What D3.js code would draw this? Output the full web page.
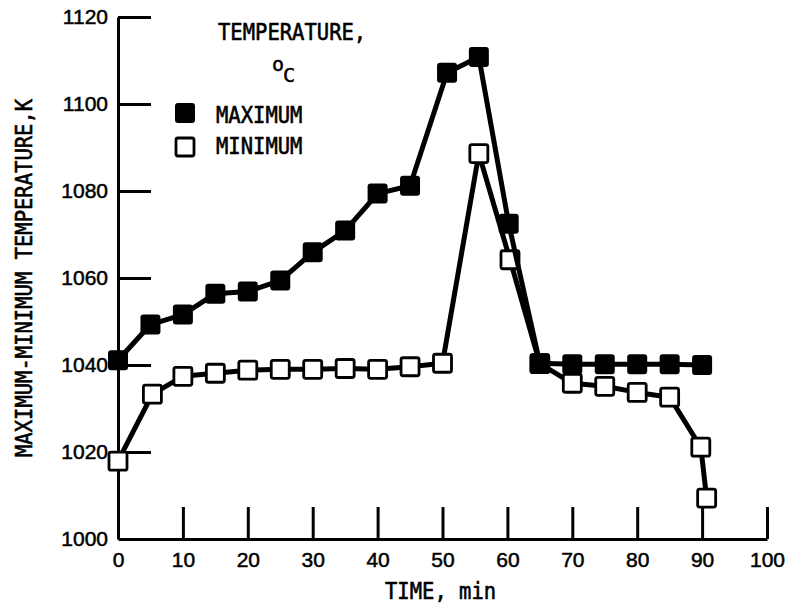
<!DOCTYPE html>
<html>
<head>
<meta charset="utf-8">
<script src="https://cdn.jsdelivr.net/npm/d3@7"></script>
<style>
  body { margin: 0; background: #fff; }
  svg { display: block; }
</style>
</head>
<body>
<div id="chart"></div>
<script>
// Set size constants
var totWidth = 787,
    totHeight = 606;
var margins = {top: 17, right: 20, bottom: 67, left: 118};

// Data (time in min, temperature in K)
var maxTime = [0, 5, 10, 15, 20, 25, 30, 35, 40, 45, 50.7, 55.6, 60.2, 65, 70, 75, 80, 85, 90];
var maxTemp = [1041.1, 1049.3, 1051.6, 1056.4, 1056.9, 1059.4, 1065.9, 1070.9, 1079.4, 1081.2,
               1107.2, 1110.8, 1072.5, 1040.4, 1040.2, 1040.2, 1040.2, 1040.2, 1040.0];
var minTime = [0, 5.3, 10, 15, 20, 25, 30, 35, 40, 45, 50, 55.6, 60.4, 65, 70, 75, 80, 85, 89.8, 90.7];
var minTemp = [1017.9, 1033.3, 1037.4, 1038.1, 1038.8, 1039.0, 1039.0, 1039.2, 1039.0, 1039.6,
               1040.4, 1088.6, 1064.2, 1040.3, 1035.8, 1035.1, 1033.7, 1032.6, 1021.1, 1009.4];
var xTicks = [0, 10, 20, 30, 40, 50, 60, 70, 80, 90, 100];
var yTicks = [1000, 1020, 1040, 1060, 1080, 1100, 1120];

var maxData = maxTime.map(function(t, i) { return {t: t, v: maxTemp[i]}; });
var minData = minTime.map(function(t, i) { return {t: t, v: minTemp[i]}; });

var monoFont = "'DejaVu Sans Mono', 'Liberation Mono', monospace";
var numFont = "'Liberation Sans', Arial, sans-serif";

var svg = d3.select("#chart")
  .append("svg")
    .attr("width", totWidth)
    .attr("height", totHeight);

// Scales
var x = d3.scaleLinear()
  .domain([0, 100])
  .range([margins.left, totWidth - margins.right]);
var y = d3.scaleLinear()
  .domain([1000, 1120])
  .range([totHeight - margins.bottom, margins.top]);

// X axis, ticks pointing up into the plot
var xAxis = svg.append("g")
  .attr("transform", "translate(0," + y(1000) + ")")
  .call(d3.axisBottom(x)
    .tickValues(xTicks)
    .tickSizeInner(-32)
    .tickSizeOuter(0)
    .tickPadding(13)
    .tickFormat(d3.format("d")));

// Y axis, ticks pointing right into the plot
var yAxis = svg.append("g")
  .attr("transform", "translate(" + x(0) + ",0)")
  .call(d3.axisLeft(y)
    .tickValues(yTicks)
    .tickSizeInner(-33)
    .tickSizeOuter(0)
    .tickPadding(10)
    .tickFormat(d3.format("d")));

[xAxis, yAxis].forEach(function(g) {
  g.select(".domain").attr("stroke", "#000").attr("stroke-width", 3);
  g.selectAll(".tick line").attr("stroke", "#000").attr("stroke-width", 3);
  g.selectAll(".tick text")
    .attr("fill", "#000")
    .attr("stroke", "#000")
    .attr("stroke-width", 0.5)
    .style("font-family", numFont)
    .style("font-size", "21px");
});
// no upward tick at 0, the y axis is there
xAxis.selectAll(".tick").filter(function(d) { return d === 0; }).select("line").remove();
yAxis.selectAll(".tick").filter(function(d) { return d === 1000; }).select("line").remove();

// Axis titles
function monoText(txt, n) {
  return svg.append("text")
    .attr("fill", "#000")
    .attr("stroke", "#000")
    .attr("stroke-width", 0.6)
    .style("font-family", monoFont)
    .style("font-size", "23px")
    .attr("textLength", n * 12.35)
    .attr("lengthAdjust", "spacingAndGlyphs")
    .text(txt);
}

monoText("TIME, min", 9)
  .attr("x", 385)
  .attr("y", 599);

monoText("MAXIMUM-MINIMUM TEMPERATURE,K", 29)
  .attr("transform", "translate(32,457) rotate(-90)");

// Lines
var line = d3.line()
  .x(function(d) { return x(d.t); })
  .y(function(d) { return y(d.v); });

svg.append("path")
  .datum(minData)
  .attr("fill", "none")
  .attr("stroke", "#000")
  .attr("stroke-width", 5)
  .attr("stroke-linejoin", "round")
  .attr("d", line);

svg.append("g")
  .selectAll("rect")
  .data(minData)
  .enter()
  .append("rect")
    .attr("x", function(d) { return x(d.t) - 9; })
    .attr("y", function(d) { return y(d.v) - 9; })
    .attr("width", 18)
    .attr("height", 18)
    .attr("rx", 2)
    .attr("fill", "#fff")
    .attr("stroke", "#000")
    .attr("stroke-width", 2.8);

svg.append("path")
  .datum(maxData)
  .attr("fill", "none")
  .attr("stroke", "#000")
  .attr("stroke-width", 5)
  .attr("stroke-linejoin", "round")
  .attr("d", line);

svg.append("g")
  .selectAll("rect")
  .data(maxData)
  .enter()
  .append("rect")
    .attr("x", function(d) { return x(d.t) - 10; })
    .attr("y", function(d) { return y(d.v) - 10; })
    .attr("width", 20)
    .attr("height", 20)
    .attr("rx", 3)
    .attr("fill", "#000");

// Legend
monoText("TEMPERATURE,", 12)
  .attr("x", 218)
  .attr("y", 40);

svg.append("text")
  .attr("x", 272)
  .attr("y", 71)
  .attr("fill", "#000")
  .attr("stroke", "#000")
  .attr("stroke-width", 0.5)
  .style("font-family", monoFont)
  .style("font-size", "20px")
  .text("o");
svg.append("text")
  .attr("x", 283)
  .attr("y", 82)
  .attr("fill", "#000")
  .attr("stroke", "#000")
  .attr("stroke-width", 0.5)
  .style("font-family", monoFont)
  .style("font-size", "20px")
  .text("C");

svg.append("rect")
  .attr("x", 175).attr("y", 103)
  .attr("width", 20).attr("height", 20)
  .attr("rx", 3)
  .attr("fill", "#000");
monoText("MAXIMUM", 7)
  .attr("x", 216)
  .attr("y", 123);

svg.append("rect")
  .attr("x", 176).attr("y", 138)
  .attr("width", 18).attr("height", 18)
  .attr("rx", 2)
  .attr("fill", "#fff")
  .attr("stroke", "#000")
  .attr("stroke-width", 2.8);
monoText("MINIMUM", 7)
  .attr("x", 216)
  .attr("y", 154);
</script>
</body>
</html>
